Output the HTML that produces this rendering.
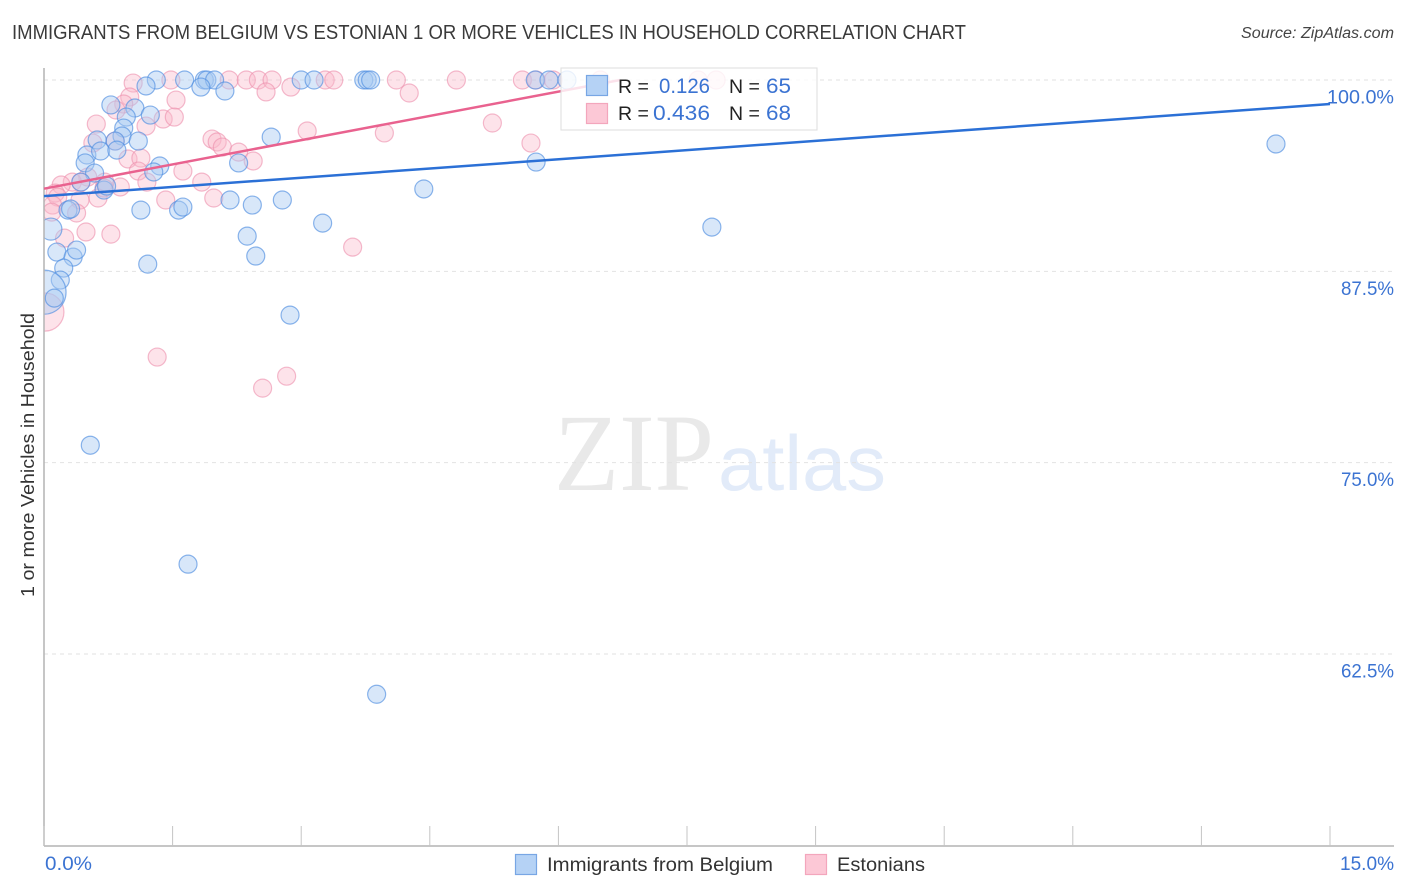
<!DOCTYPE html>
<html lang="en">
<head>
<meta charset="utf-8">
<title>Immigrants from Belgium vs Estonian correlation chart</title>
<style>
html,body{margin:0;padding:0;background:#fff;}
body{width:1406px;height:892px;overflow:hidden;}
svg{display:block;font-family:"Liberation Sans",sans-serif;}
</style>
</head>
<body>
<svg id="chart" width="1406" height="892" viewBox="0 0 1406 892" xmlns="http://www.w3.org/2000/svg">
  <rect x="0" y="0" width="1406" height="892" fill="#fff"></rect>
  <text x="12" y="39" font-size="20" fill="#3a3a3a" textLength="954" lengthAdjust="spacingAndGlyphs">IMMIGRANTS FROM BELGIUM VS ESTONIAN 1 OR MORE VEHICLES IN HOUSEHOLD CORRELATION CHART</text>
  <text x="1394" y="38" font-size="15.5" font-style="italic" fill="#444" text-anchor="end" textLength="153" lengthAdjust="spacingAndGlyphs">Source: ZipAtlas.com</text>
  <g>
    <text x="554" y="490" font-family="'Liberation Serif',serif" font-size="110" fill="#e9e9e9" textLength="160" lengthAdjust="spacingAndGlyphs">ZIP</text>
    <text x="718" y="490" font-family="'Liberation Sans',sans-serif" font-size="78" fill="#e2ebf9" textLength="168" lengthAdjust="spacingAndGlyphs">atlas</text>
  </g>
  <g id="grid"></g>
  <g id="points-pink"></g>
  <g id="points-blue"></g>
  <rect x="0" y="60" width="44" height="800" fill="#fff"></rect>
  <g id="axes"></g>
  <text transform="translate(34,597) rotate(-90)" font-size="18.5" fill="#333" textLength="284" lengthAdjust="spacingAndGlyphs">1 or more Vehicles in Household</text>
  <g id="trends"></g>
  <g>
    <rect x="561" y="68" width="256" height="62" fill="#fff" fill-opacity="0.82" stroke="#ddd" stroke-width="1"></rect>
    <rect x="586.5" y="75.5" width="21" height="20" fill="#b5d2f5" stroke="#78a6e4" stroke-width="1.2"></rect>
    <rect x="586.5" y="103.5" width="21" height="20" fill="#fcc8d6" stroke="#f3a6bc" stroke-width="1.2"></rect>
    <text x="618" y="93" font-size="19.5" fill="#222">R =</text>
    <text x="710" y="93" font-size="21" fill="#3b73d2" text-anchor="end" textLength="51" lengthAdjust="spacingAndGlyphs">0.126</text>
    <text x="729" y="93" font-size="19.5" fill="#222">N =</text>
    <text x="791" y="93" font-size="21" fill="#3b73d2" text-anchor="end" textLength="25" lengthAdjust="spacingAndGlyphs">65</text>
    <text x="618" y="120" font-size="19.5" fill="#222">R =</text>
    <text x="710" y="120" font-size="21" fill="#3b73d2" text-anchor="end" textLength="57" lengthAdjust="spacingAndGlyphs">0.436</text>
    <text x="729" y="120" font-size="19.5" fill="#222">N =</text>
    <text x="791" y="120" font-size="21" fill="#3b73d2" text-anchor="end" textLength="25" lengthAdjust="spacingAndGlyphs">68</text>
  </g>
  <g>
    <rect x="515.5" y="854.5" width="21" height="20" fill="#b5d2f5" stroke="#78a6e4" stroke-width="1.2"></rect>
    <text x="547" y="871" font-size="19" fill="#333" textLength="226" lengthAdjust="spacingAndGlyphs">Immigrants from Belgium</text>
    <rect x="805.5" y="854.5" width="21" height="20" fill="#fcc8d6" stroke="#f3a6bc" stroke-width="1.2"></rect>
    <text x="837" y="871" font-size="19" fill="#333" textLength="88" lengthAdjust="spacingAndGlyphs">Estonians</text>
  </g>
</svg>
<script>
// Tick values and labels
const xTickValues = [0, 1.5, 3, 4.5, 6, 7.5, 9, 10.5, 12, 13.5, 15];
const xEndLabels = ["0.0%", "15.0%"];
const yTickValues = [100, 87.5, 75, 62.5];
const yTickLabels = ["100.0%", "87.5%", "75.0%", "62.5%"];

// Immigrants from Belgium series: x (%), y (%), relative sample weight
const belgiumX = [1.31,1.64,1.87,1.90,1.99,1.83,2.11,1.19,0.78,1.06,1.24,0.96,0.93,0.91,0.83,1.10,0.62,0.50,0.66,0.85,0.48,0.59,1.35,1.28,2.65,2.27,0.43,0.70,0.73,0.28,0.31,1.13,1.57,1.62,2.17,2.43,2.78,3.25,2.37,2.47,1.21,0.08,0.15,0.34,0.38,0.23,0.19,0.00,0.12,2.87,0.54,1.68,3.88,3.00,3.15,3.73,3.77,3.81,5.73,5.89,6.10,5.74,4.43,7.79,14.37];
const belgiumY = [100,100,100,100,100,99.54,99.28,99.61,98.37,98.17,97.71,97.58,96.86,96.34,96.01,96.01,96.08,95.10,95.36,95.42,94.58,93.92,94.38,93.99,96.27,94.58,93.33,92.81,93.07,91.50,91.57,91.50,91.50,91.70,92.16,91.83,92.16,90.65,89.80,88.50,87.97,90.26,88.76,88.43,88.89,87.71,86.93,86.14,85.75,84.64,76.14,68.37,59.87,100,100,100,100,100,100,100,100,94.64,92.88,90.39,95.82];
const belgiumWeight = [1,1,1,1,1,1,1,1,1,1,1,1,1,1,1,1,1,1,1,1,1,1,1,1,1,1,1,1,1,1,1,1,1,1,1,1,1,1,1,1,1,1.5,1,1,1,1,1,6,1,1,1,1,1,1,1,1,1,1,1,1,1,1,1,1,1];

// Estonians series: x (%), y (%), relative sample weight
const estoniansX = [1.04,1.00,1.48,2.16,2.36,2.50,2.66,2.59,2.88,3.28,3.38,4.11,4.26,4.81,5.58,5.74,5.94,6.49,7.63,7.84,1.54,0.93,0.84,1.39,1.52,1.19,0.61,3.07,3.97,5.23,5.68,1.96,2.02,2.08,2.27,2.44,0.57,0.98,1.13,1.10,1.62,1.20,1.84,0.89,0.71,0.51,0.33,0.20,0.13,0.16,0.63,0.42,1.42,1.98,0.10,0.09,0.38,0.49,0.78,0.24,0.01,1.32,2.55,2.83,3.60,0.83,0.70,0.43];
const estoniansY = [99.80,98.89,100,100,100,100,100,99.22,99.54,100,100,100,99.15,100,100,100,100,100,100,100,98.69,98.43,98.04,97.45,97.58,96.99,97.12,96.67,96.54,97.19,95.88,96.14,95.95,95.62,95.29,94.71,95.88,94.84,94.90,94.05,94.05,93.33,93.33,93.01,93.33,93.66,93.33,93.14,92.61,92.35,92.29,92.16,92.16,92.29,91.83,91.37,91.31,90.07,89.93,89.67,84.84,81.90,79.87,80.65,89.08,96.01,92.94,93.33];
const estoniansWeight = [1,1,1,1,1,1,1,1,1,1,1,1,1,1,1,1,1,1,1,1,1,1,1,1,1,1,1,1,1,1,1,1,1,1,1,1,1,1,1,1,1,1,1,1,1,1,1,1,1,1,1,1,1,1,1,1,1,1,1,1,4.5,1,1,1,1,1,1,1];

// Trend lines: [start, end]
const belgiumTrendX = [0, 15];
const belgiumTrendY = [92.41, 98.43];
const estoniansTrendX = [0, 6.72];
const estoniansTrendY = [92.9, 100];

const NS = "http://www.w3.org/2000/svg";
function sx(v) { return 44 + v * (1330 - 44) / 15; }
function sy(v) { return 80 + (100 - v) * (654 - 80) / 37.5; }
function sr(w) { return 9 * Math.sqrt(w); }
function make(tag, attrs, parent) {
  const el = document.createElementNS(NS, tag);
  for (const k in attrs) el.setAttribute(k, attrs[k]);
  parent.appendChild(el);
  return el;
}

const grid = document.getElementById("grid");
yTickValues.forEach(function (v) {
  const line = make("line", { x1: 44, x2: 1394, y1: sy(v), y2: sy(v), stroke: "#e2e2e2", "stroke-width": 1, "stroke-dasharray": "4 4" }, grid);
  
  
});

const axes = document.getElementById("axes");
const yAxisLine = make("line", { x1: 44, x2: 44, y1: 68, y2: 846, stroke: "#b4b4b4", "stroke-width": 1.5 }, axes);


const xAxisLine = make("line", { x1: 44, x2: 1394, y1: 846, y2: 846, stroke: "#b4b4b4", "stroke-width": 1.5 }, axes);



xTickValues.forEach(function (v) {
  const tick = make("line", { x1: sx(v), x2: sx(v), y1: 826, y2: 846, stroke: "#c4c4c4", "stroke-width": 1 }, axes);
  
  
});

const xStart = make("text", { x: 45, y: 870, "font-size": 19, fill: "#3b73d2", textLength: 47, lengthAdjust: "spacingAndGlyphs" }, axes);
xStart.textContent = xEndLabels[0];


const xEnd = make("text", { x: 1394, y: 870, "font-size": 19, fill: "#3b73d2", "text-anchor": "end", textLength: 54, lengthAdjust: "spacingAndGlyphs" }, axes);
xEnd.textContent = xEndLabels[1];



yTickValues.forEach(function (v, i) {
  const w = yTickLabels[i].length > 5 ? 67 : 53;
  const label = make("text", { x: 1394, y: sy(v) + 23.5, "font-size": 19, fill: "#3b73d2", "text-anchor": "end", textLength: w, lengthAdjust: "spacingAndGlyphs" }, axes);
  label.textContent = yTickLabels[i];
  
  
});

const pinkLayer = document.getElementById("points-pink");
estoniansX.forEach(function (x, i) {
  const c = make("circle", { cx: sx(x), cy: sy(estoniansY[i]), r: sr(estoniansWeight[i]), fill: "#f9b8cb", "fill-opacity": 0.4, stroke: "#ec8dab", "stroke-opacity": 0.6, "stroke-width": 1.2 }, pinkLayer);
  
  
});

const blueLayer = document.getElementById("points-blue");
belgiumX.forEach(function (x, i) {
  const c = make("circle", { cx: sx(x), cy: sy(belgiumY[i]), r: sr(belgiumWeight[i]), fill: "#a8c9f2", "fill-opacity": 0.45, stroke: "#4f8de0", "stroke-opacity": 0.65, "stroke-width": 1.2 }, blueLayer);
  
  
});

const trends = document.getElementById("trends");
const belgiumLine = make("line", { x1: sx(belgiumTrendX[0]), y1: sy(belgiumTrendY[0]), x2: sx(belgiumTrendX[1]), y2: sy(belgiumTrendY[1]), stroke: "#2b70d6", "stroke-width": 2.5 }, trends);


const estoniansLine = make("line", { x1: sx(estoniansTrendX[0]), y1: sy(estoniansTrendY[0]), x2: sx(estoniansTrendX[1]), y2: sy(estoniansTrendY[1]), stroke: "#e9628f", "stroke-width": 2.5 }, trends);


</script>
</body>
</html>
